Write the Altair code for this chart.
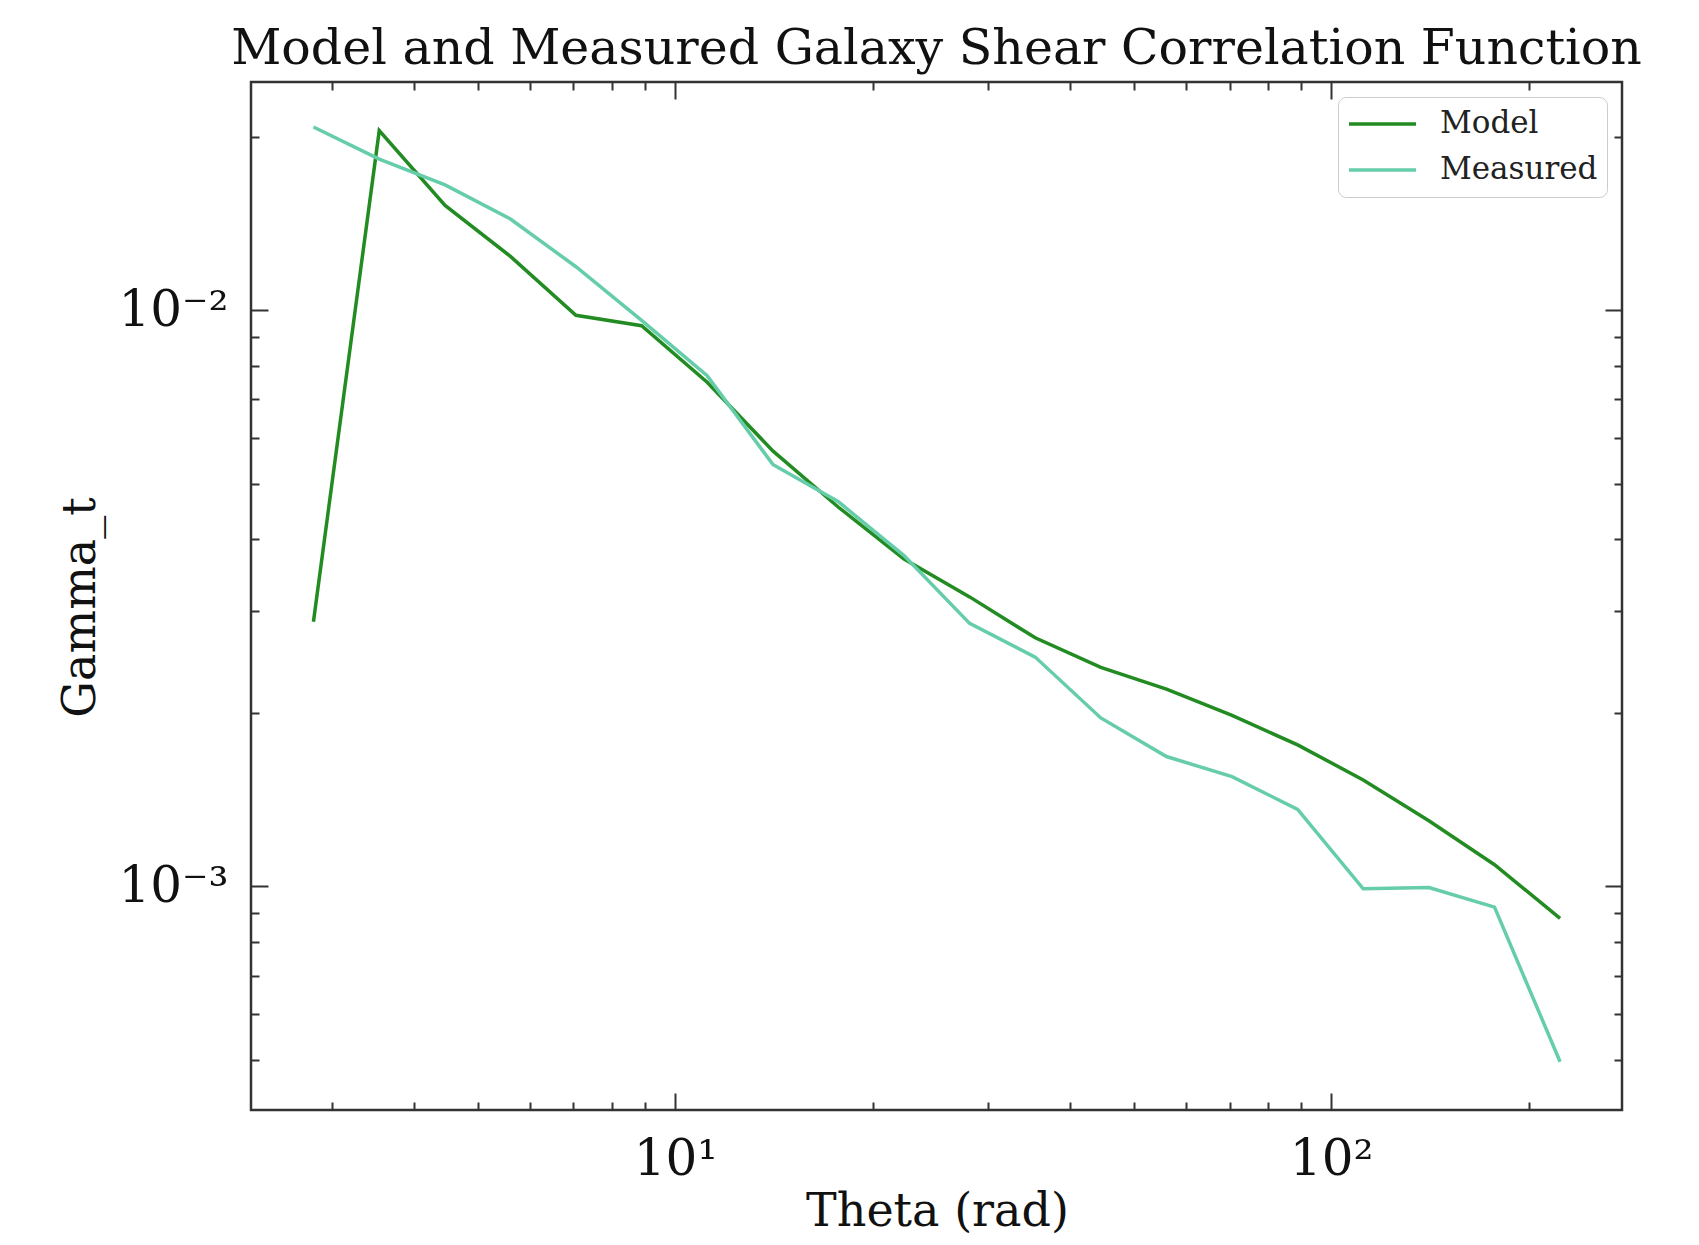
import altair as alt
import pandas as pd

# ---- data ----
theta = [2.81, 3.54, 4.46, 5.61, 7.06, 8.89, 11.19, 14.09, 17.74, 22.33,
         28.11, 35.39, 44.55, 56.09, 70.61, 88.89, 111.9, 140.9, 177.4, 223.3]
model = [0.00288, 0.0205, 0.0152, 0.0124, 0.0098, 0.0094, 0.0075, 0.0057, 0.00455, 0.0037,
         0.00318, 0.0027, 0.0024, 0.0022, 0.00198, 0.00176, 0.00153, 0.0013, 0.00109, 0.00088]
measured = [0.0208, 0.0183, 0.0165, 0.0144, 0.0119, 0.0096, 0.0077, 0.0054, 0.00465, 0.00375,
            0.00286, 0.0025, 0.00196, 0.00168, 0.00155, 0.00136, 0.00099, 0.000995, 0.00092, 0.000496]
series_names = ["Model", "Measured"]
series_colors = ["#228B22", "#66CDAA"]

x_major = [10, 100]
x_major_labels = ["10\u00b9", "10\u00b2"]
x_minor = [3, 4, 5, 6, 7, 8, 9, 20, 30, 40, 50, 60, 70, 80, 90, 200]
y_major = [0.001, 0.01]
y_major_labels = ["10\u207b\u00b3", "10\u207b\u00b2"]
y_minor = [0.0005, 0.0006, 0.0007, 0.0008, 0.0009,
           0.002, 0.003, 0.004, 0.005, 0.006, 0.007, 0.008, 0.009, 0.02]

x_domain = [2.257, 277.5]
y_domain = [0.000409, 0.0249]

rows = []
for t, m, s in zip(theta, model, measured):
    rows.append({"theta": t, "gamma": m, "series": "Model"})
    rows.append({"theta": t, "gamma": s, "series": "Measured"})
df = pd.DataFrame(rows)

FONT = "DejaVu Serif"
AX = "#333333"


def label_expr(vals, labels):
    expr = "''"
    for v, lab in zip(reversed(vals), reversed(labels)):
        expr = f"abs(datum.value - {v}) < {v}*1e-6 ? '{lab}' : ({expr})"
    return expr


xs = alt.Scale(type="log", domain=x_domain, nice=False)
ys = alt.Scale(type="log", domain=y_domain, nice=False)

lines = alt.Chart(df).mark_line(strokeWidth=3.5).encode(
    x=alt.X("theta:Q", scale=xs,
            axis=alt.Axis(orient="bottom", values=x_major, labelExpr=label_expr(x_major, x_major_labels),
                          ticks=False, domain=False, grid=False, labelFontSize=50, labelFont=FONT,
                          labelPadding=24, labelColor="#111111", labelFlush=False, labelOverlap=False,
                          title="Theta (rad)", titleFont=FONT, titleFontSize=46, titleFontWeight="normal",
                          titleColor="#111111", titleX=686, titleY=115, titleAlign="center",
                          titleBaseline="alphabetic")),
    y=alt.Y("gamma:Q", scale=ys,
            axis=alt.Axis(orient="left", values=y_major, labelExpr=label_expr(y_major, y_major_labels),
                          ticks=False, domain=False, grid=False, labelFontSize=50, labelFont=FONT,
                          labelPadding=23, labelColor="#111111", labelFlush=False, labelOverlap=False,
                          title="Gamma_t", titleFont=FONT, titleFontSize=46, titleFontWeight="normal",
                          titleColor="#111111", titleAngle=270, titleX=-157, titleY=525,
                          titleAlign="center", titleBaseline="alphabetic")),
    color=alt.Color("series:N", sort=series_names,
                    scale=alt.Scale(domain=series_names, range=series_colors),
                    legend=alt.Legend(title=None, orient="top-right", offset=15, symbolType="stroke",
                                      symbolSize=4489, symbolStrokeWidth=3.5, labelFont=FONT,
                                      labelFontSize=31, labelOffset=22, labelColor="#222222",
                                      padding=9, rowPadding=10, clipHeight=36,
                                      strokeColor="#cccccc", fillColor="rgba(255,255,255,0.85)",
                                      cornerRadius=8)),
    order=alt.Order("theta:Q"),
    detail="series:N",
)


def tick_layer(xorient, yorient, xvals, yvals, size):
    return alt.Chart(df).mark_point(opacity=0).encode(
        x=alt.X("theta:Q", scale=xs,
                axis=alt.Axis(orient=xorient, values=xvals, tickSize=size, offset=-size, labels=False,
                              domain=False, grid=False, title=None, ticks=True, tickColor=AX,
                              tickWidth=2)),
        y=alt.Y("gamma:Q", scale=ys,
                axis=alt.Axis(orient=yorient, values=yvals, tickSize=size, offset=-size, labels=False,
                              domain=False, grid=False, title=None, ticks=True, tickColor=AX,
                              tickWidth=2)),
    )


chart = alt.layer(
    lines,
    tick_layer("bottom", "left", x_major, y_major, 17),
    tick_layer("bottom", "left", x_minor, y_minor, 8),
    tick_layer("top", "right", x_major, y_major, 17),
    tick_layer("top", "right", x_minor, y_minor, 8),
).resolve_axis(x="independent", y="independent").properties(
    width=1371, height=1028,
    autosize=alt.AutoSizeParams(type="none"),
    padding={"left": 243, "top": 74, "right": 69, "bottom": 127},
    title=alt.TitleParams(text="Model and Measured Galaxy Shear Correlation Function",
                          font=FONT, fontSize=49, fontWeight="normal", color="#111111",
                          anchor="middle", offset=7),
).configure(background="white").configure_view(stroke=AX, strokeWidth=2.5)

chart.save("out.html", embed_options={"renderer": "svg", "actions": False})
